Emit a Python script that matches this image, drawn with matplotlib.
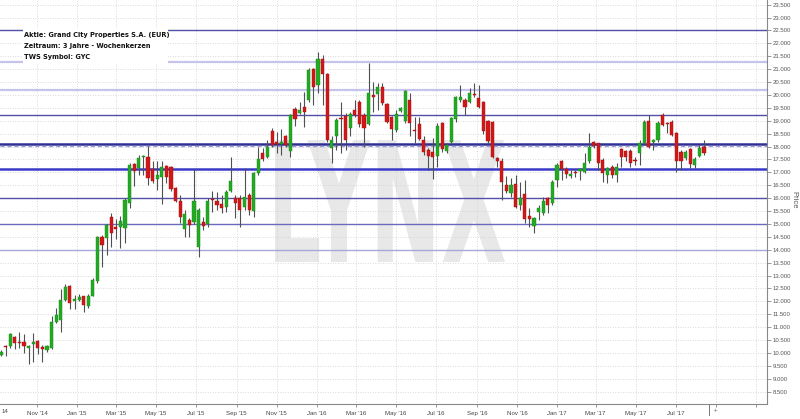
import matplotlib
matplotlib.use("Agg")
import matplotlib.pyplot as plt
import matplotlib.dates as mdates
from matplotlib.textpath import TextPath
from matplotlib.patches import PathPatch
from matplotlib.transforms import Affine2D
from matplotlib.font_manager import FontProperties
import pandas as pd
import numpy as np

# ---- data (weekly candles, EUR) ----
opens = [9.93,10.27,10.28,10.61,10.40,10.44,10.21,10.35,10.47,10.22,
         10.12,10.18,11.21,11.28,12.04,12.58,12.00,12.04,12.19,11.83,
         12.22,12.78,14.48,14.44,15.28,14.90,14.87,14.85,15.83,17.32,
         17.15,17.58,17.60,17.12,16.73,16.81,17.25,17.20,16.38,15.90,
         14.79,15.16,15.09,14.10,15.09,15.00,15.93,15.89,15.78,15.65,
         16.29,15.99,15.99,15.67,16.12,15.52,16.99,17.74,17.58,18.62,
         18.19,18.10,18.39,17.84,19.44,19.29,19.55,19.81,21.00,20.39,
         21.40,20.81,17.93,18.39,19.12,19.19,18.71,19.42,19.74,19.23,
         18.87,20.00,20.04,20.30,19.65,19.16,18.64,19.39,19.00,19.81,
         18.64,18.88,18.26,17.87,17.80,17.64,18.90,17.84,18.19,19.06,
         19.81,19.81,19.74,20.02,19.87,19.71,19.00,18.97,17.54,17.42,
         16.51,16.19,16.55,15.74,16.16,15.32,14.92,15.48,15.44,16.02,
         15.80,16.71,17.42,17.14,16.87,16.99,17.07,17.03,17.42,18.19,
         18.13,17.48,16.90,17.22,16.90,17.89,17.84,17.84,17.48,17.76,
         18.15,19.00,18.19,18.26,19.22,18.93,18.97,18.51,17.80,17.55,
         17.89,17.29,17.64,17.97]
highs = [10.10,10.30,10.78,10.66,10.83,10.75,10.30,10.77,10.50,10.30,
         10.30,11.42,11.73,12.48,12.67,12.63,12.25,12.30,12.22,12.30,
         12.90,14.52,14.57,15.00,15.41,15.20,15.32,16.00,17.35,17.35,
         17.67,17.68,18.02,17.42,17.45,17.42,17.29,17.25,16.42,16.12,
         15.54,15.22,17.12,15.60,15.26,15.99,16.29,16.25,16.12,16.32,
         17.61,16.12,16.12,17.16,16.19,17.03,18.00,17.93,18.26,18.71,
         18.58,18.67,18.45,19.26,19.55,19.74,20.13,21.03,21.03,21.68,
         21.55,20.84,18.39,19.10,19.74,19.29,19.35,19.81,19.81,19.29,
         21.23,20.52,20.48,20.48,19.68,19.19,19.42,19.55,20.20,20.07,
         19.16,19.16,18.39,17.93,18.32,18.90,18.97,18.13,19.16,19.96,
         20.39,19.87,20.26,20.45,20.39,19.75,19.03,19.00,17.61,17.54,
         16.84,16.77,16.90,16.64,16.71,15.61,15.28,15.74,16.06,16.06,
         16.71,17.35,17.48,17.22,17.09,17.10,17.16,17.74,18.51,18.23,
         18.15,17.54,17.22,17.29,17.35,17.93,17.87,17.89,17.61,18.26,
         19.03,19.22,18.28,19.00,19.29,18.97,19.03,18.58,17.87,17.87,
         17.93,17.61,18.06,18.26]
lows = [9.88,9.88,10.20,10.15,10.18,10.00,9.58,9.66,9.96,9.66,
        10.02,10.15,11.15,10.83,12.00,11.72,11.70,12.00,11.60,11.73,
        12.20,12.70,13.32,13.80,14.10,14.40,14.06,14.28,15.60,16.47,
        16.90,16.90,16.52,16.60,16.30,15.78,16.58,16.29,15.86,15.03,
        14.51,14.48,15.00,13.70,14.77,14.90,15.48,15.54,15.41,15.48,
        16.25,15.22,14.90,15.54,15.35,15.28,16.90,17.42,17.55,18.00,
        17.74,17.67,18.00,17.61,18.80,19.26,18.75,19.74,19.61,20.07,
        19.61,18.19,17.35,17.87,17.74,17.87,18.39,19.16,18.75,18.00,
        18.84,19.35,19.42,19.61,18.90,18.26,18.58,19.35,18.90,18.39,
        18.13,18.26,17.67,17.10,16.75,17.20,17.80,17.74,18.13,18.97,
        19.74,19.23,19.68,19.91,19.48,18.50,18.13,17.55,17.22,15.93,
        16.19,16.06,15.61,15.54,15.03,14.90,14.64,15.16,15.35,15.41,
        15.74,16.45,16.71,16.77,16.77,16.80,16.70,16.96,17.35,17.93,
        17.09,16.64,16.58,16.77,16.64,17.22,17.42,17.22,17.29,17.29,
        18.06,17.93,17.87,18.19,18.80,18.51,18.39,17.03,17.09,17.48,
        17.16,17.16,17.58,17.67]
closes = [10.05,10.22,10.72,10.40,10.37,10.28,10.28,10.44,10.18,10.15,
          10.25,11.18,11.47,12.04,12.56,11.95,12.08,12.17,11.86,12.19,
          12.83,14.48,14.19,14.97,14.64,14.80,15.13,15.92,17.27,17.07,
          17.57,17.63,16.77,16.68,16.90,17.20,16.83,16.34,15.90,15.26,
          15.39,14.96,15.87,15.54,14.92,15.87,15.91,15.74,15.61,16.25,
          16.68,15.80,15.54,16.03,15.54,16.99,17.51,17.51,18.00,18.06,
          18.10,18.16,18.06,19.23,19.08,19.42,19.35,20.97,20.30,21.40,
          20.81,18.26,18.26,19.03,19.08,18.26,19.26,19.23,18.86,18.71,
          20.09,19.91,20.32,19.68,18.97,18.67,19.26,19.51,20.16,18.90,
          18.62,18.28,17.77,17.64,17.58,18.80,17.90,18.06,19.10,19.91,
          19.91,19.52,20.09,19.98,19.55,18.62,18.23,17.61,17.42,16.64,
          16.29,16.51,15.67,15.99,15.18,15.18,15.22,15.61,15.87,15.74,
          16.64,17.29,17.12,16.95,16.92,16.96,17.09,17.38,18.00,18.02,
          17.38,16.99,17.17,16.90,17.22,17.61,17.61,17.35,17.45,18.15,
          18.97,17.97,18.26,18.93,18.84,18.88,18.45,17.42,17.42,17.80,
          17.33,17.51,17.93,17.74]
first_week = "2014-09-07"
weeks = pd.date_range(first_week, periods=len(opens), freq="7D")

price_ticks = np.arange(8.5, 23.51, 0.5)
month_ticks = pd.date_range("2014-11-01", "2017-11-01", freq="2MS")
month_labels = [d.strftime("%b '%y") for d in month_ticks]
labelled_until = pd.Timestamp("2017-07-31")

# horizontal support/resistance lines
sr_levels = [22.5, 21.28, 20.19, 19.22, 18.09, 18.02, 17.13, 16.0, 14.99, 13.99]
sr_colors = ["#5050a8", "#c4c4ec", "#c4c4ec", "#5050a8", "#2f2f96", "#9a9ad8",
             "#3a3ac8", "#5050a8", "#6a6ac0", "#a8a8dc"]
sr_widths = [1.0, 1.6, 1.6, 1.0, 1.8, 1.0, 1.8, 1.0, 1.0, 1.0]
sr_styles = ["-", "-", "-", "-", "-", (0, (3, 2)), "-", "-", "-", "-"]

info_lines = ["Aktie: Grand City Properties S.A. (EUR)",
              "Zeitraum: 3 Jahre - Wochenkerzen",
              "TWS Symbol: GYC"]

# ---- figure ----
W, H = 800, 419
AX_W, AX_H = 767, 404
fig = plt.figure(figsize=(W / 100, H / 100), dpi=100)
ax = fig.add_axes([0.0, 1 - AX_H / H, AX_W / W, AX_H / H])
ax.set_ylim(8.02, 23.68)
x0 = mdates.date2num(pd.Timestamp("2014-09-05 12:00"))
x1 = mdates.date2num(pd.Timestamp("2017-11-17"))
ax.set_xlim(x0, x1)

# watermark (condensed by scaling the glyph outline into its box)
tp = TextPath((0, 0), "LYNX", size=1,
              prop=FontProperties(family="DejaVu Sans", weight="bold"))
ext = tp.get_extents()
bx0, bx1 = 275 / AX_W, 505 / AX_W
by0, by1 = 1 - 262 / AX_H, 1 - 140 / AX_H
wm_tr = (Affine2D().translate(-ext.x0, -ext.y0)
         .scale((bx1 - bx0) / ext.width, (by1 - by0) / ext.height)
         .translate(bx0, by0) + ax.transAxes)
ax.add_patch(PathPatch(tp, transform=wm_tr, facecolor="#e8e8e8",
                       edgecolor="none", zorder=0))

# grid (including the Sep '14 line just left of the view)
grid_months = pd.date_range("2014-09-01", "2017-11-01", freq="2MS")
for p in price_ticks:
    ax.axhline(p, color="#cfcfcf", lw=0.6, ls=(0, (1, 2)), zorder=1)
for d in grid_months:
    ax.axvline(mdates.date2num(d), color="#cfcfcf", lw=0.6, ls=(0, (1, 2)), zorder=1)

for lv, c, w, s in zip(sr_levels, sr_colors, sr_widths, sr_styles):
    ax.axhline(lv, color=c, lw=w, ls=s, zorder=2)

# candles
xs = mdates.date2num(weeks)
o = np.array(opens); h = np.array(highs); l = np.array(lows); c = np.array(closes)
up = c >= o
ax.vlines(xs, l, h, color="#505050", lw=0.8, zorder=3)
body_lo = np.minimum(o, c)
body_h = np.maximum(np.abs(c - o), 0.04)
ax.bar(xs[up], body_h[up], bottom=body_lo[up], width=4.8, color="#22aa22",
       edgecolor="#1a8a1a", linewidth=0.3, zorder=4)
ax.bar(xs[~up], body_h[~up], bottom=body_lo[~up], width=4.8, color="#d01818",
       edgecolor="#a81010", linewidth=0.3, zorder=4)

# info box
ax.add_patch(plt.Rectangle((23 / AX_W, 1 - 64 / AX_H), 145 / AX_W, 35 / AX_H,
                           transform=ax.transAxes, facecolor="white",
                           edgecolor="none", zorder=5))
for i, t in enumerate(info_lines):
    ax.text(24 / AX_W, 1 - (35 + 11 * i) / AX_H, t, transform=ax.transAxes,
            fontsize=4.75, fontweight="bold", color="#111111", va="center",
            ha="left", zorder=6, family="DejaVu Sans")

# axes styling
for s in ["top", "left"]:
    ax.spines[s].set_visible(False)
for s in ["right", "bottom"]:
    ax.spines[s].set_color("#888888")
    ax.spines[s].set_linewidth(0.8)

ax.yaxis.tick_right()
ax.set_yticks(price_ticks)
ax.set_yticklabels([f"{p:.3f}" for p in price_ticks])
ax.tick_params(axis="y", length=3, width=0.6, color="#888888", labelsize=4.3,
               labelcolor="#555555", pad=1.2)
ax.set_xticks(mdates.date2num(month_ticks))
ax.set_xticklabels([lab if d <= labelled_until else ""
                    for d, lab in zip(month_ticks, month_labels)])
ax.tick_params(axis="x", length=2, width=0.6, color="#888888", labelsize=4.4,
               labelcolor="#444444", pad=3)
for lab in ax.get_xticklabels() + ax.get_yticklabels():
    lab.set_family("Liberation Sans")

# visible tail of the cut-off first label ("Sep '14")
ax.text(1.5 / AX_W, -0.012, "14", transform=ax.transAxes, fontsize=4.4,
        color="#444444", ha="left", va="top", clip_on=False,
        family="Liberation Sans")

# current-date marker below axis
xm = mdates.date2num(pd.Timestamp("2017-08-20"))
ax.plot([xm, xm], [0, -0.028], transform=ax.get_xaxis_transform(),
        color="#777777", lw=0.7, clip_on=False)
ax.text(xm + 10, -0.016, "+", transform=ax.get_xaxis_transform(), fontsize=4.5,
        color="#777777", ha="center", va="center", clip_on=False)

fig.text(794 / W, 1 - 200 / H, "Price", rotation=270, fontsize=5.5,
         color="#555555", ha="center", va="center", family="Liberation Sans")

fig.savefig("out.png", dpi=100)
